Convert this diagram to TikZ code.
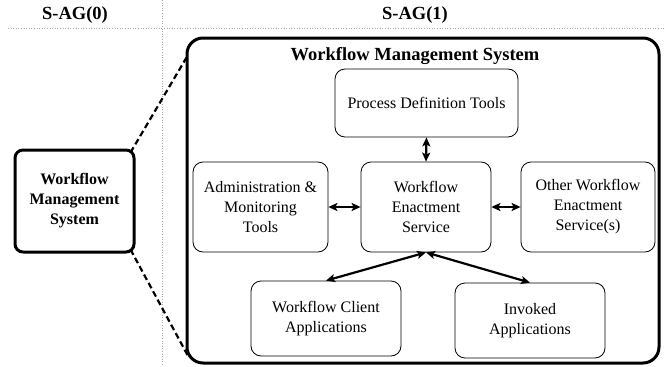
\documentclass[tikz,border=0pt]{standalone}
\usepackage{fontspec}
\setmainfont{Liberation Serif}
\usetikzlibrary{arrows.meta}
\begin{document}
\begin{tikzpicture}[x=1pt,y=-1pt,
  box/.style={draw, line width=0.8pt, rounded corners=10pt, align=center,
    font=\fontsize{16}{20}\selectfont, inner sep=0pt},
  link/.style={line width=2.2pt,
    {Stealth[length=9pt,width=8pt,inset=2pt]}-{Stealth[length=9pt,width=8pt,inset=2pt]}},
  guide/.style={gray!70, dotted, line width=0.6pt},
  zoomline/.style={line width=2.2pt, dash pattern=on 6pt off 3.5pt},
  heading/.style={font=\fontsize{18.5}{22}\selectfont\bfseries, inner sep=0pt}]
\useasboundingbox (0,0) rectangle (665,367);

% level separators
\draw[guide] (8,28) -- (665,28);
\draw[guide] (162,0) -- (162,367);
\node[heading] (lvl0) at (75,15) {S-AG(0)};
\node[heading] (lvl1) at (415,15) {S-AG(1)};

% collapsed system
\node[draw, line width=3pt, rounded corners=8pt, minimum width=119pt, minimum height=102pt,
  align=center, inner sep=0pt, font=\fontsize{16}{20}\selectfont\bfseries]
  (sys) at (74.5,201) {Workflow\\Management\\System};

% expanded system
\node[draw, line width=3pt, rounded corners=16pt, minimum width=472pt, minimum height=325pt,
  inner sep=0pt] (wms) at (423,200.5) {};
\node[heading] (title) at (415,56) {Workflow Management System};

% zoom lines
\coordinate (sysA) at (130.5,152.5);
\coordinate (sysB) at (130.5,249.5);
\coordinate (wmsA) at (188,55);
\coordinate (wmsB) at (187.5,355);
\draw[zoomline] (sysA) -- (wmsA);
\draw[zoomline] (sysB) -- (wmsB);

% components
\node[box, minimum width=183pt, minimum height=68pt] (pdt) at (426.5,103) {Process Definition Tools};
\node[box, minimum width=135pt, minimum height=90pt] (adm) at (260.5,207) {Administration \&\\Monitoring\\Tools};
\node[box, minimum width=130pt, minimum height=90pt] (wes) at (426,207) {Workflow\\Enactment\\Service};
\node[box, minimum width=134pt, minimum height=90pt] (oth) at (588,207) {Other Workflow\\Enactment\\Service(s)};
\node[box, minimum width=150pt, minimum height=75pt] (cli) at (326,318.5) {Workflow Client\\Applications};
\node[box, minimum width=150pt, minimum height=75pt] (inv) at (530,320.5) {Invoked\\Applications};

% interfaces
\draw[link] (pdt.south) -- (wes.north);
\draw[link] (adm.east) -- (wes.west);
\draw[link] (wes.east) -- (oth.west);
\draw[link] (wes.south) -- (cli.north);
\draw[link] (wes.south) -- (inv.north);
\end{tikzpicture}
\end{document}
